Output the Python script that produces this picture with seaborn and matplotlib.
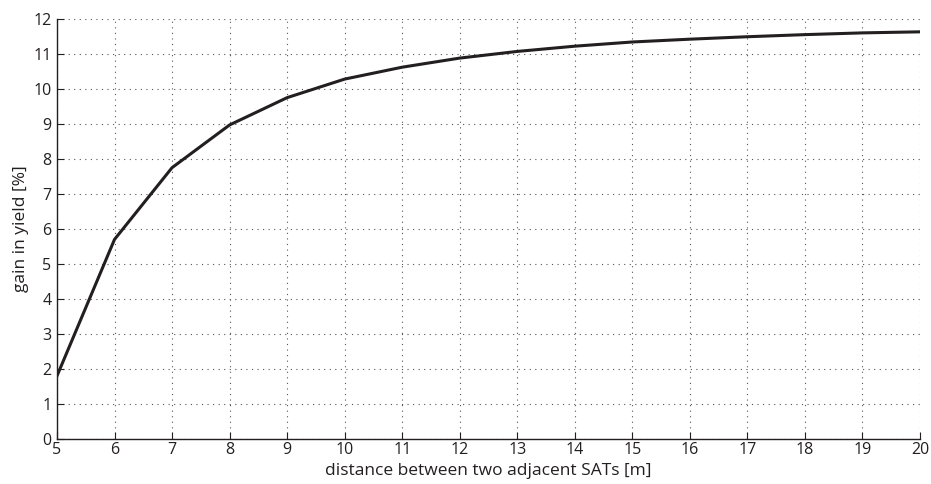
import matplotlib
matplotlib.use("Agg")
import matplotlib.pyplot as plt
import seaborn as sns
import pandas as pd

distance = [5, 6, 7, 8, 9, 10, 11, 12, 13, 14, 15, 16, 17, 18, 19, 20]
gain = [1.8, 5.7, 7.75, 8.97, 9.75, 10.28, 10.62, 10.88, 11.07, 11.22, 11.34, 11.42, 11.49, 11.55, 11.60, 11.63]
xticks = list(range(5, 21))
yticks = list(range(0, 13))

sns.set_theme(style="white")
plt.rcParams['font.family'] = ['Open Sans', 'DejaVu Sans']

df = pd.DataFrame({"distance": distance, "gain": gain})

fig = plt.figure(figsize=(9.31, 4.84), dpi=100)
ax = fig.add_axes([0.0612, 0.093, 0.927, 0.868])
sns.lineplot(data=df, x="distance", y="gain", ax=ax, color="#231f20", linewidth=2.2)

ax.set_xlim(5, 20)
ax.set_ylim(0, 12)
ax.set_xticks(xticks)
ax.set_yticks(yticks)
ax.grid(True, linestyle=(0, (1, 4)), color="#555555", linewidth=0.8)
for s in ["top", "right"]:
    ax.spines[s].set_visible(False)
for s in ["left", "bottom"]:
    ax.spines[s].set_color("#231f20")
    ax.spines[s].set_linewidth(1.0)
ax.tick_params(direction="in", length=5, width=0.8, colors="#231f20", labelsize=11.5,
               bottom=True, left=True)
ax.tick_params(axis="x", pad=2)
ax.tick_params(axis="y", pad=4)
ax.set_xlabel("distance between two adjacent SATs [m]", fontsize=12.5, color="#231f20", labelpad=4)
ax.set_ylabel("gain in yield [%]", fontsize=12.5, color="#231f20", labelpad=3)

fig.savefig("out.png", dpi=100)
